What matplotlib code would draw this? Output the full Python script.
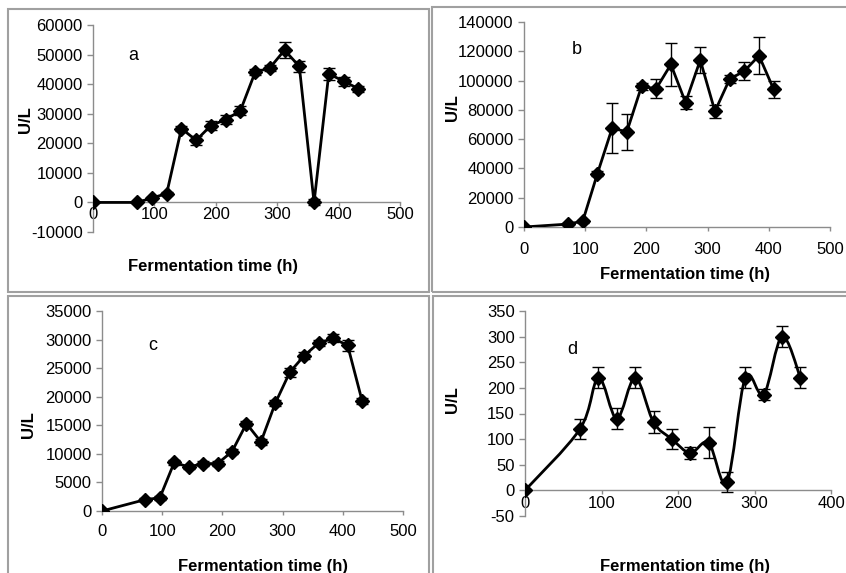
import matplotlib
matplotlib.use("Agg")
import matplotlib.pyplot as plt
from matplotlib.path import Path
from matplotlib.patches import PathPatch, Rectangle

plt.rcParams['font.family'] = ['Liberation Sans', 'DejaVu Sans']
plt.rcParams['axes.unicode_minus'] = False

W, H = 846, 573

# panel a
hours_a = [0, 72, 96, 120, 144, 168, 192, 216, 240, 264, 288, 312, 336, 360, 384, 408, 432]
ul_a = [0, 0, 1500, 3000, 25000, 21000, 26000, 28000, 31000, 44000, 45500, 51500, 46000, 0, 43500, 41000, 38500]
err_a = [300, 300, 500, 500, 800, 1500, 1500, 1500, 1500, 1000, 1000, 2800, 1800, 1000, 2000, 1500, 1000]

# panel b
hours_b = [0, 72, 96, 120, 144, 168, 192, 216, 240, 264, 288, 312, 336, 360, 384, 408]
ul_b = [0, 2000, 4000, 36500, 67500, 65000, 96000, 94500, 111000, 85000, 114000, 79000, 101000, 106500, 117000, 94000]
err_b = [300, 800, 1000, 1500, 17000, 12500, 2500, 6500, 15000, 4500, 9000, 4500, 2500, 6000, 12500, 6000]

# panel c
hours_c = [0, 72, 96, 120, 144, 168, 192, 216, 240, 264, 288, 312, 336, 360, 384, 408, 432]
ul_c = [0, 2000, 2300, 8500, 7700, 8300, 8300, 10400, 15300, 12100, 18900, 24300, 27200, 29400, 30200, 29000, 19300]
err_c = [100, 300, 300, 400, 400, 400, 400, 500, 500, 500, 600, 800, 600, 600, 700, 1000, 500]

# panel d
hours_d = [0, 72, 96, 120, 144, 168, 192, 216, 240, 264, 288, 312, 336, 360]
ul_d = [0, 120, 220, 140, 220, 133, 100, 73, 93, 16, 220, 187, 300, 220]
err_d = [2, 20, 20, 20, 20, 22, 20, 11, 30, 20, 20, 10, 20, 20]

xlabel = "Fermentation time (h)"
ylabel = "U/L"


def px_axes(fig, left, right, top, bottom):
    return fig.add_axes([left / W, 1 - bottom / H, (right - left) / W, (bottom - top) / H])


def smooth_path(xs, ys):
    # Excel-style smoothed line: cubic Bezier through every point
    pts = list(zip(xs, ys))
    verts = [pts[0]]
    codes = [Path.MOVETO]
    n = len(pts)
    for i in range(n - 1):
        p0 = pts[i - 1] if i > 0 else pts[i]
        p1 = pts[i]
        p2 = pts[i + 1]
        p3 = pts[i + 2] if i + 2 < n else pts[i + 1]
        c1 = (p1[0] + (p2[0] - p0[0]) / 6, p1[1] + (p2[1] - p0[1]) / 6)
        c2 = (p2[0] - (p3[0] - p1[0]) / 6, p2[1] - (p3[1] - p1[1]) / 6)
        verts += [c1, c2, p2]
        codes += [Path.CURVE4] * 3
    return Path(verts, codes)


def panel(fig, box, xs, ys, es, xlim, ylim, ystep, xstep, letter, letter_pos,
          xlab_pos, ylab_pos, xpad, smooth=False):
    ax = px_axes(fig, *box)
    if smooth:
        ax.add_patch(PathPatch(smooth_path(xs, ys), fill=False, lw=2.0,
                               edgecolor='black', zorder=3))
        ax.errorbar(xs, ys, yerr=es, fmt='D', color='black', ms=7.5,
                    ecolor='black', elinewidth=1, capsize=4.5, capthick=1, zorder=4)
    else:
        ax.errorbar(xs, ys, yerr=es, fmt='-D', color='black', lw=2.0, ms=7.5,
                    ecolor='black', elinewidth=1, capsize=4.5, capthick=1, zorder=4)
    ax.set_xlim(*xlim)
    ax.set_ylim(*ylim)
    ax.set_xticks(range(xlim[0], xlim[1] + 1, xstep))
    ax.set_yticks(range(ylim[0], ylim[1] + 1, ystep))
    for s in ['top', 'right']:
        ax.spines[s].set_visible(False)
    for s in ['left', 'bottom']:
        ax.spines[s].set_color('#8c8c8c')
        ax.spines[s].set_linewidth(1)
    ax.spines['bottom'].set_position(('data', 0))
    ax.tick_params(axis='both', colors='#8c8c8c', labelcolor='black',
                   labelsize=12, length=4, width=1)
    ax.tick_params(axis='x', length=3, pad=xpad)
    ax.patch.set_alpha(0)
    fig.text(letter_pos[0] / W, 1 - letter_pos[1] / H, letter, fontsize=13,
             ha='center', va='center')
    fig.text(xlab_pos[0] / W, 1 - xlab_pos[1] / H, xlabel, fontsize=12,
             fontweight='bold', ha='center', va='center')
    fig.text(ylab_pos[0] / W, 1 - ylab_pos[1] / H, ylabel, fontsize=12,
             fontweight='bold', ha='center', va='center', rotation=90)
    return ax


fig = plt.figure(figsize=(W / 100, H / 100), dpi=100)

# panel frames
frame = dict(fill=False, edgecolor='#a0a0a0', lw=1.5, transform=fig.transFigure)
for (l, r, t, b) in [(8, 429, 9, 292), (432, 860, 7, 292),
                     (8, 429, 296, 590), (433, 860, 296, 590)]:
    fig.patches.append(Rectangle((l / W, 1 - b / H), (r - l) / W, (b - t) / H, **frame))

panel(fig, (93, 400, 25, 232), hours_a, ul_a, err_a, (0, 500), (-10000, 60000),
      10000, 100, 'a', (133, 55), (213, 267), (25, 120), xpad=0)
panel(fig, (524, 830, 22, 227), hours_b, ul_b, err_b, (0, 500), (0, 140000),
      20000, 100, 'b', (577, 50), (685, 274), (452, 108), xpad=7.5)
panel(fig, (102, 403, 311, 511), hours_c, ul_c, err_c, (0, 500), (0, 35000),
      5000, 100, 'c', (153, 345), (263, 567), (28, 425), xpad=6.2)
panel(fig, (525, 831, 311, 516), hours_d, ul_d, err_d, (0, 400), (-50, 350),
      50, 100, 'd', (572, 350), (685, 567), (452, 400), xpad=1.2, smooth=True)

fig.savefig('out.png', dpi=100)
